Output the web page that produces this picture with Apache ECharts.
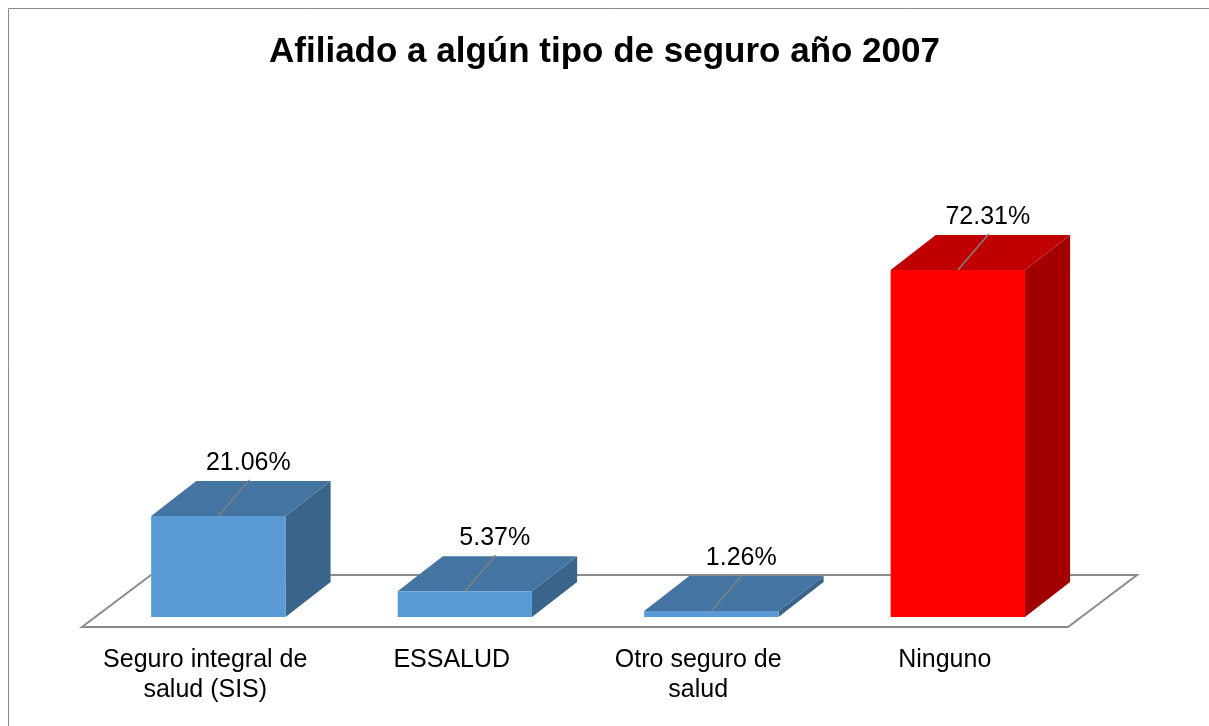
<!DOCTYPE html>
<html>
<head>
<meta charset="utf-8">
<script src="https://cdn.jsdelivr.net/npm/echarts@6/dist/echarts.min.js"></script>
<style>
  html, body { margin: 0; padding: 0; background: #fff; }
  #chart { width: 1209px; height: 726px; }
</style>
</head>
<body>
<div id="chart"></div>
<script>
// datos del gráfico
const categories = ['Seguro integral de\nsalud (SIS)', 'ESSALUD', 'Otro seguro de\nsalud', 'Ninguno'];
const values = [21.06, 5.37, 1.26, 72.31];

// colores de las caras (frente, tapa, lado)
const blueFaces = ['#5b9bd5', '#4475a2', '#3a6489'];
const redFaces = ['#ff0000', '#c00000', '#a20000'];

const myChart = echarts.init(document.getElementById('chart'));

// piso 3D, dibujado detrás de las barras
function renderFloor(params, api) {
    const band = api.size([1, 0])[0];
    const l = api.coord([0, 0]);
    const r = api.coord([categories.length - 1, 0]);
    const x0 = l[0] - band / 2, x1 = r[0] + band / 2, y = l[1];
    const dx = band * 0.28, dy = -52;
    return {
        type: 'polygon',
        shape: {points: [[x0, y], [x1, y], [x1 + dx, y + dy], [x0 + dx, y + dy]]},
        style: {fill: '#fff', stroke: '#8c8c8c', lineWidth: 2}
    };
}

// barra 3D: frente, tapa y lado
function renderBar(params, api) {
    const i = api.value(0), v = api.value(1);
    const base = api.coord([i, 0]);
    const top = api.coord([i, v]);
    const band = api.size([1, 0])[0];
    const w = band * 0.545;
    const ox = band * 0.053, oy = -10;
    const dx = band * 0.183, dy = -35;
    const x0 = base[0] - w / 2 + ox, x1 = x0 + w;
    const yb = base[1] + oy, yt = top[1] + oy;
    const faces = i === 3 ? redFaces : blueFaces;
    const xc = (x0 + x1) / 2;
    return {
        type: 'group',
        children: [
            {type: 'polygon', shape: {points: [[x1, yb], [x1 + dx, yb + dy], [x1 + dx, yt + dy], [x1, yt]]},
                style: {fill: faces[2]}},
            {type: 'polygon', shape: {points: [[x0, yt], [x1, yt], [x1 + dx, yt + dy], [x0 + dx, yt + dy]]},
                style: {fill: faces[1]}},
            {type: 'rect', shape: {x: x0, y: yt, width: w, height: yb - yt},
                style: {fill: faces[0]}},
            {type: 'line', shape: {x1: xc, y1: yt, x2: xc + 31, y2: yt - 36},
                style: {stroke: '#808080', lineWidth: 1.5}},
            {type: 'text', x: xc + 30, y: yt - 53,
                style: {text: v.toFixed(2) + '%', fill: '#000', font: '25px "Liberation Sans", Arial, sans-serif',
                    align: 'center', verticalAlign: 'middle'}}
        ]
    };
}

myChart.setOption({
    animation: false,
    title: {
        text: 'Afiliado a algún tipo de seguro año 2007',
        left: 'center',
        top: 30,
        textStyle: {fontFamily: '"Liberation Sans", Arial, sans-serif', fontSize: 35, fontWeight: 'bold', color: '#000'}
    },
    graphic: [{
        type: 'rect',
        shape: {x: 8.5, y: 8.5, width: 1220, height: 740},
        style: {fill: 'none', stroke: '#8a8a8a', lineWidth: 1}
    }],
    grid: {left: 82, right: 141, top: 243, bottom: 99},
    xAxis: {
        type: 'category',
        data: categories,
        axisLine: {show: false},
        axisTick: {show: false},
        axisLabel: {
            margin: 18,
            fontFamily: '"Liberation Sans", Arial, sans-serif',
            fontSize: 25,
            lineHeight: 30,
            color: '#000',
            interval: 0
        }
    },
    yAxis: {
        type: 'value',
        min: 0,
        max: 80,
        show: false,
        splitLine: {show: false}
    },
    series: [
        {
            type: 'custom',
            z: 1,
            renderItem: renderFloor,
            data: [[0, 0]],
            encode: {x: 0, y: 1}
        },
        {
            type: 'custom',
            z: 2,
            renderItem: renderBar,
            data: values.map((v, i) => [i, v]),
            encode: {x: 0, y: 1}
        }
    ]
});

window.addEventListener('resize', () => {
    myChart.resize();
});
</script>
</body>
</html>
